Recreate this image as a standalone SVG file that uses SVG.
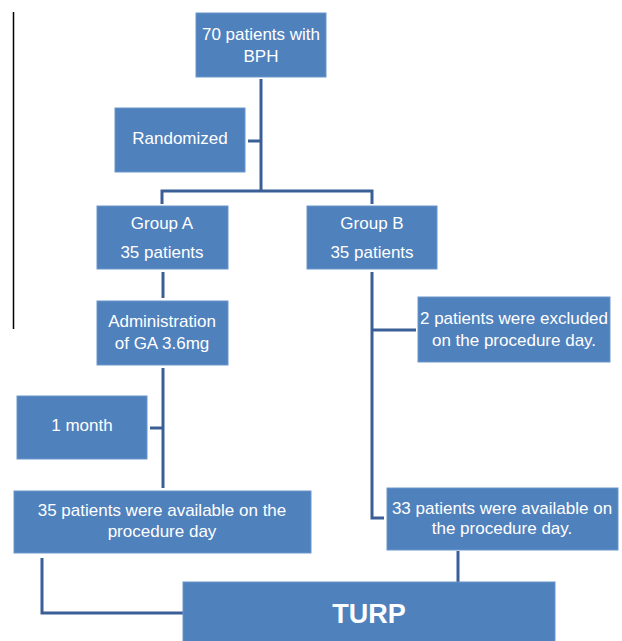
<svg xmlns="http://www.w3.org/2000/svg" width="622" height="641" viewBox="0 0 622 641">
<style>
.box{fill:#4F81BD;stroke:#6A96CC;stroke-width:1}
.t{font-family:"Liberation Sans",Arial,sans-serif;font-size:17px;fill:#FFFFFF;text-anchor:middle}
.big{font-family:"Liberation Sans",Arial,sans-serif;font-size:27px;font-weight:bold;fill:#FFFFFF;text-anchor:middle}
.c{fill:none;stroke:#3A5F97;stroke-width:3}
</style>
<rect width="622" height="641" fill="#FFFFFF"/>
<line x1="13.5" y1="12" x2="13.5" y2="329" stroke="#000000" stroke-width="1.5"/>
<g id="connectors">
<path class="c" d="M261 79 V190"/>
<path class="c" d="M248 141 H261"/>
<path class="c" d="M162 204 V191 H372 V204"/>
<path class="c" d="M163 272 V298"/>
<path class="c" d="M163 368 V488"/>
<path class="c" d="M150 428 H163"/>
<path class="c" d="M372 272 V518 H384"/>
<path class="c" d="M372 330 H416"/>
<path class="c" d="M42 558 V613 H183"/>
<path class="c" d="M458 551 V582"/>
</g>
<g id="n_start"><rect class="box" x="196" y="13" width="130" height="64"/><text class="t" x="261" y="40">70 patients with</text><text class="t" x="261" y="62">BPH</text></g>
<g id="n_random"><rect class="box" x="115" y="108" width="130" height="64"/><text class="t" x="180" y="144">Randomized</text></g>
<g id="n_groupA"><rect class="box" x="97" y="206" width="131" height="63"/><text class="t" x="162" y="229">Group A</text><text class="t" x="162" y="258">35 patients</text></g>
<g id="n_groupB"><rect class="box" x="307" y="206" width="130" height="63"/><text class="t" x="372" y="229">Group B</text><text class="t" x="372" y="258">35 patients</text></g>
<g id="n_admin"><rect class="box" x="97" y="301" width="131" height="64"/><text class="t" x="162" y="327">Administration</text><text class="t" x="162" y="349">of GA 3.6mg</text></g>
<g id="n_month"><rect class="box" x="17" y="396" width="130" height="63"/><text class="t" x="82" y="431">1 month</text></g>
<g id="n_availA"><rect class="box" x="14" y="491" width="297" height="62"/><text class="t" x="162" y="516">35 patients were available on the</text><text class="t" x="162" y="537">procedure day</text></g>
<g id="n_excl"><rect class="box" x="418" y="297" width="192" height="65"/><text class="t" x="514" y="324">2 patients were excluded</text><text class="t" x="514" y="346">on the procedure day.</text></g>
<g id="n_availB"><rect class="box" x="387" y="488" width="231" height="62"/><text class="t" x="502" y="514">33 patients were available on</text><text class="t" x="502" y="534">the procedure day.</text></g>
<g id="n_turp"><rect class="box" x="183" y="582" width="372" height="62"/><text class="big" x="369" y="623">TURP</text></g>
</svg>
